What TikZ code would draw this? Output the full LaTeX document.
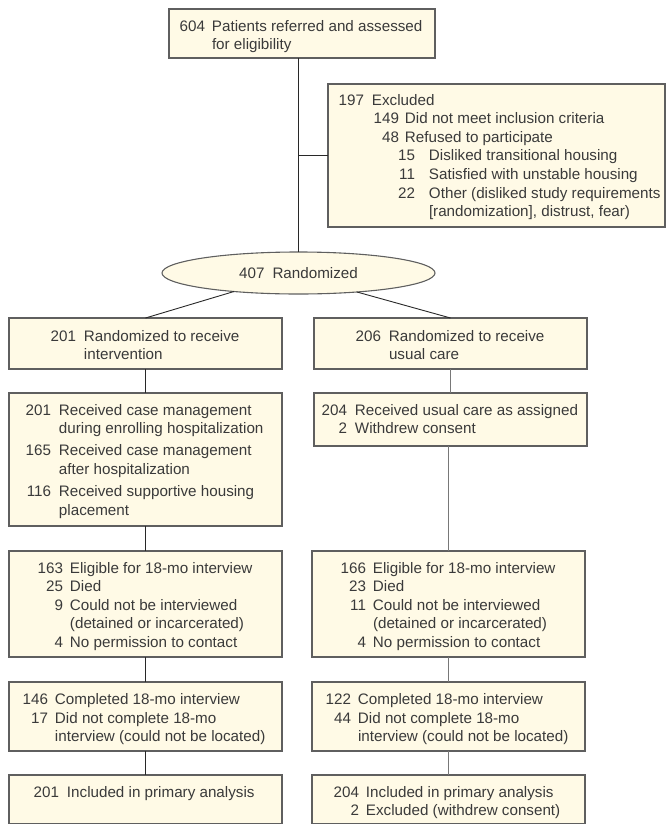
\documentclass[tikz,border=0pt]{standalone}
\usepackage{fontspec}
\setmainfont{Liberation Sans}
\usetikzlibrary{shapes.geometric}
\definecolor{boxfill}{RGB}{255,250,230}
\definecolor{boxline}{RGB}{95,95,95}
\definecolor{txtcol}{RGB}{58,58,58}
\definecolor{linedark}{RGB}{40,40,40}
\definecolor{linelight}{RGB}{120,120,120}
\newcommand\ttl[4]{\hbox{\strut\hbox to #1pt{\hfil#3}\hskip\dimexpr#2pt-#1pt\relax#4}}
\begin{document}
\begin{tikzpicture}[x=1pt,y=-1pt,
  box/.style={draw=boxline, fill=boxfill, line width=1.1pt, rectangle, inner sep=0pt, outer sep=0pt, anchor=north west},
  txt/.style={inner sep=0pt, outer sep=0pt, anchor=base west, text=txtcol, font=\fontsize{15.2}{18.6}\selectfont},
  conn/.style={draw=linedark, line width=0.9pt},
  connr/.style={draw=linelight, line width=0.9pt}]
\useasboundingbox (0,0) rectangle (666,825);

% boxes
\node[box, minimum width=266pt, minimum height=49pt] (top) at (169,9) {};
\node[box, minimum width=337pt, minimum height=143pt] (excl) at (328,84) {};
\node[ellipse, draw=boxline, fill=boxfill, line width=1.1pt, inner sep=0pt, outer sep=0pt,
      minimum width=273pt, minimum height=42pt, text=txtcol,
      font=\fontsize{15.2}{18.6}\selectfont] (ell) at (298.5,273) {407\hskip 8pt Randomized};
\node[box, minimum width=273pt, minimum height=51pt] (l1) at (9,318) {};
\node[box, minimum width=273pt, minimum height=51pt] (r1) at (314,318) {};
\node[box, minimum width=273pt, minimum height=133pt] (l2) at (9,393) {};
\node[box, minimum width=273pt, minimum height=53pt] (r2) at (314,393) {};
\node[box, minimum width=273pt, minimum height=106pt] (l3) at (9,551) {};
\node[box, minimum width=273pt, minimum height=106pt] (r3) at (312,551) {};
\node[box, minimum width=273pt, minimum height=69pt] (l4) at (9,682) {};
\node[box, minimum width=273pt, minimum height=69pt] (r4) at (312,682) {};
\node[box, minimum width=273pt, minimum height=48.5pt] (l5) at (9,775) {};
\node[box, minimum width=273pt, minimum height=48.5pt] (r5) at (312,775) {};

% texts
\node[txt] (ttop) at (169,31) {\vtop{%
  \ttl{36}{43}{604}{Patients referred and assessed}%
  \ttl{36}{43}{}{for eligibility}}};
\node[txt] (texcl) at (328,105) {\vtop{%
  \ttl{36}{44}{197}{Excluded}%
  \ttl{71}{77}{149}{Did not meet inclusion criteria}%
  \ttl{71}{77}{48}{Refused to participate}%
  \ttl{87}{101}{15}{Disliked transitional housing}%
  \ttl{87}{101}{11}{Satisfied with unstable housing}%
  \ttl{87}{101}{22}{Other (disliked study requirements}%
  \ttl{87}{101}{}{[randomization], distrust, fear)}}};
\node[txt] (tl1) at (9,341) {\vtop{%
  \ttl{67}{75}{201}{Randomized to receive}%
  \ttl{67}{75}{}{intervention}}};
\node[txt] (tr1) at (314,341) {\vtop{%
  \ttl{67}{75}{206}{Randomized to receive}%
  \ttl{67}{75}{}{usual care}}};
\node[txt] (tl2) at (9,415) {\vtop{%
  \ttl{42}{50}{201}{Received case management}%
  \ttl{42}{50}{}{during enrolling hospitalization}%
  \vskip 3.5pt
  \ttl{42}{50}{165}{Received case management}%
  \ttl{42}{50}{}{after hospitalization}%
  \vskip 3.5pt
  \ttl{42}{50}{116}{Received supportive housing}%
  \ttl{42}{50}{}{placement}}};
\node[txt] (tr2) at (314,415) {\vtop{%
  \ttl{33}{41}{204}{Received usual care as assigned}%
  \ttl{33}{41}{2}{Withdrew consent}}};
\node[txt] (tl3) at (9,573) {\vtop{%
  \ttl{54}{61}{163}{Eligible for 18-mo interview}%
  \ttl{54}{61}{25}{Died}%
  \ttl{54}{61}{9}{Could not be interviewed}%
  \ttl{54}{61}{}{(detained or incarcerated)}%
  \ttl{54}{61}{4}{No permission to contact}}};
\node[txt] (tr3) at (312,573) {\vtop{%
  \ttl{54}{61}{166}{Eligible for 18-mo interview}%
  \ttl{54}{61}{23}{Died}%
  \ttl{54}{61}{11}{Could not be interviewed}%
  \ttl{54}{61}{}{(detained or incarcerated)}%
  \ttl{54}{61}{4}{No permission to contact}}};
\node[txt] (tl4) at (9,704.5) {\vtop{%
  \ttl{39}{46}{146}{Completed 18-mo interview}%
  \ttl{39}{46}{17}{Did not complete 18-mo}%
  \ttl{39}{46}{}{interview (could not be located)}}};
\node[txt] (tr4) at (312,704.5) {\vtop{%
  \ttl{39}{46}{122}{Completed 18-mo interview}%
  \ttl{39}{46}{44}{Did not complete 18-mo}%
  \ttl{39}{46}{}{interview (could not be located)}}};
\node[txt] (tl5) at (9,797) {\vtop{%
  \ttl{50}{58}{201}{Included in primary analysis}}};
\node[txt] (tr5) at (312,797) {\vtop{%
  \ttl{47}{54}{204}{Included in primary analysis}%
  \ttl{47}{54}{2}{Excluded (withdrew consent)}}};

% connectors
\draw[conn] (ell.north |- top.south) -- (ell.north);
\draw[conn] (ell.north |- excl.west) -- (excl.west);
\draw[conn] (ell.196) -- (l1.north);
\draw[conn] (ell.-18) -- (r1.north);
\draw[conn] (l1.south) -- (l2.north);
\draw[conn] (l2.south) -- (l3.north);
\draw[conn] (l3.south) -- (l4.north);
\draw[conn] (l4.south) -- (l5.north);
\draw[connr] (r1.south) -- (r2.north);
\draw[connr] (r3.north |- r2.south) -- (r3.north);
\draw[connr] (r3.south) -- (r4.north);
\draw[connr] (r4.south) -- (r5.north);
\end{tikzpicture}
\end{document}
